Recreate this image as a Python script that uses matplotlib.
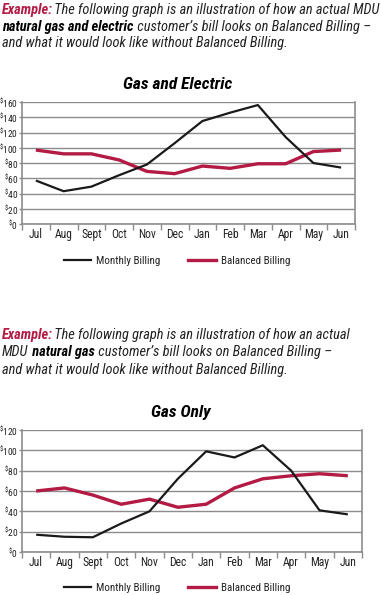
import matplotlib
matplotlib.use("Agg")
import matplotlib.pyplot as plt
from matplotlib.lines import Line2D
from matplotlib.text import Annotation

# fonts: condensed sans similar to the brochure face
FONT = ["Roboto Condensed", "Liberation Sans", "DejaVu Sans"]
plt.rcParams["font.family"] = FONT
plt.rcParams["mathtext.fontset"] = "custom"
plt.rcParams["mathtext.rm"] = "Roboto Condensed"

# ---- data ----
months = ["Jul", "Aug", "Sept", "Oct", "Nov", "Dec", "Jan", "Feb", "Mar", "Apr", "May", "Jun"]

ge_monthly = [57, 43, 49, 64, 78, 106, 135, 146, 156, 114, 80, 74]
ge_balanced = [97, 92, 92, 84, 69, 66, 76, 73, 79, 79, 95, 97]
ge_yticks = [0, 20, 40, 60, 80, 100, 120, 140, 160]

go_monthly = [17, 15, 14.5, 28, 40, 72, 99, 93, 105, 80, 41, 37]
go_balanced = [60, 63, 56, 47, 52, 44, 47, 63, 72, 75, 77, 75]
go_yticks = [0, 20, 40, 60, 80, 100, 120]

RED = "#b31b45"
BLACK = "#1a1a1a"
GRID = "#8c8c8c"
TXT = "#222222"

W, H = 381, 595
fig = plt.figure(figsize=(W / 100, H / 100), dpi=100)


def px_axes(left, top, right, bottom):
    return fig.add_axes([left / W, 1 - bottom / H, (right - left) / W, (bottom - top) / H])


def styled(kind):
    st = dict(fontsize=10.4, color=TXT, style="italic")
    if kind == "red":
        st.update(color=RED, weight="bold")
    elif kind == "bold":
        st.update(weight="bold", color="black")
    return st


def rich(x, y, parts):
    # chain text pieces, each one starting where the previous one ends
    s, kind = parts[0]
    t = fig.text(x / W, 1 - y / H, s, va="baseline", ha="left", **styled(kind))
    for s, kind in parts[1:]:
        shift = -1.2 if parts[0][1] == "red" else 0.3
        a = Annotation(s, xy=(1, 0), xycoords=t, xytext=(shift, 0), textcoords="offset points",
                       va="bottom", ha="left", annotation_clip=False, **styled(kind))
        fig.add_artist(a)
        t = a
    return t


def chart(ax, monthly, balanced, yticks, title, title_x, title_y, legend_y):
    x = range(len(months))
    ax.plot(x, balanced, color=RED, lw=2.4, solid_capstyle="butt", zorder=3)
    ax.plot(x, monthly, color=BLACK, lw=1.6, solid_capstyle="butt", zorder=4)
    ax.set_xlim(-0.5, len(months) - 0.5)
    ax.set_ylim(0, yticks[-1])
    ax.set_yticks(yticks)
    ax.set_yticklabels([r"${}^{\$}$" + str(v) for v in yticks], fontsize=6.8, color=TXT)
    ax.set_xticks(list(x))
    ax.set_xticklabels(months, fontsize=8.4, color=TXT)
    ax.set_xticks([i - 0.5 for i in range(len(months) + 1)], minor=True)
    ax.tick_params(axis="x", which="major", length=0, pad=3)
    ax.tick_params(axis="x", which="minor", length=4, color=GRID, width=1)
    ax.tick_params(axis="y", length=2.5, color=GRID, width=1, pad=0.3)
    ax.yaxis.grid(True, color=GRID, lw=1)
    ax.set_axisbelow(True)
    for sp in ("left", "right", "bottom"):
        ax.spines[sp].set_color(GRID)
        ax.spines[sp].set_linewidth(1.2)
    ax.spines["top"].set_visible(False)
    fig.text(title_x / W, 1 - title_y / H, title, fontsize=12.5, weight="bold", style="italic",
             color="black", ha="center", va="center")
    handles = [Line2D([], [], color=BLACK, lw=1.6), Line2D([], [], color=RED, lw=2.4)]
    fig.legend(handles, ["Monthly Billing", "Balanced Billing"], loc="center",
               bbox_to_anchor=(177 / W, 1 - legend_y / H), ncol=2, frameon=False,
               fontsize=7.9, handlelength=2.5, handletextpad=0.5, columnspacing=2.5,
               labelcolor=TXT)


# ---- paragraph 1 ----
rich(2, 14, [("Example:", "red"), (" The following graph is an illustration of how an actual MDU", "it")])
rich(2, 31, [("natural gas and electric", "bold"), (" customer\u2019s bill looks on Balanced Billing \u2013", "it")])
rich(2, 47, [("and what it would look like without Balanced Billing.", "it")])

ax1 = px_axes(22, 102, 355, 224)
chart(ax1, ge_monthly, ge_balanced, ge_yticks, "Gas and Electric", 178, 85, 261)

# ---- paragraph 2 ----
rich(2, 339, [("Example:", "red"), (" The following graph is an illustration of how an actual", "it")])
rich(2, 356, [("MDU", "it"), (" natural gas", "bold"), (" customer\u2019s bill looks on Balanced Billing \u2013", "it")])
rich(2, 374, [("and what it would look like without Balanced Billing.", "it")])

ax2 = px_axes(22, 430, 362, 552)
chart(ax2, go_monthly, go_balanced, go_yticks, "Gas Only", 181, 412, 588)

fig.savefig("out.png", dpi=100)
